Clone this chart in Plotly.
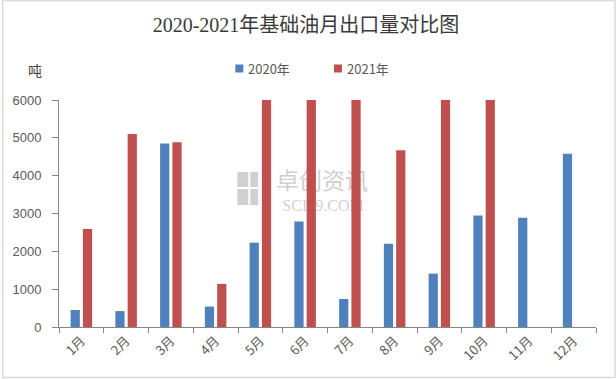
import plotly.graph_objects as go

months = ["1月", "2月", "3月", "4月", "5月", "6月", "7月", "8月", "9月", "10月", "11月", "12月"]
y2020 = [450, 420, 4850, 540, 2230, 2790, 740, 2200, 1410, 2950, 2890, 4580]
y2021 = [2590, 5100, 4880, 1140, 6000, 6000, 6000, 4670, 6000, 6000, None, None]
yticks = [0, 1000, 2000, 3000, 4000, 5000, 6000]
series_names = ["2020年", "2021年"]
colors = ["#4F81BD", "#C0504D"]

W, H = 616, 379
L, R, T, B = 57, 20, 100, 52

fig = go.Figure()
fig.add_trace(go.Bar(name=series_names[0], x=months, y=y2020, marker=dict(color=colors[0], line=dict(width=0)), showlegend=False))
fig.add_trace(go.Bar(name=series_names[1], x=months, y=y2021, marker=dict(color=colors[1], line=dict(width=0)), showlegend=False))

pw = W - L - R
ph = H - T - B
def px(xp):
    return (xp - L) / pw
def py(yp):
    return (H - B - yp) / ph

shapes = [
    dict(type="rect", xref="paper", yref="paper", x0=px(0.5), x1=px(W - 1), y0=py(H - 1.5), y1=py(0.5),
         line=dict(color="#d9d9d9", width=1.5), layer="below"),
]
# watermark logo squares
gray = "#d0d0d0"
for (x0, x1, y0, y1) in [(236, 247, 172, 187), (249, 257, 172, 187), (236, 247, 189, 205), (249, 257, 189, 205)]:
    shapes.append(dict(type="rect", xref="paper", yref="paper", x0=px(x0), x1=px(x1), y0=py(y1), y1=py(y0),
                       fillcolor=gray, line=dict(width=0), layer="below"))
shapes.append(dict(type="rect", xref="paper", yref="paper", x0=px(262), x1=px(380), y0=py(195), y1=py(170),
                   line=dict(width=0), fillcolor="rgba(0,0,0,0)", layer="below",
                   label=dict(text="卓创资讯", font=dict(size=23, color=gray, family="Noto Sans CJK SC"))))
shapes.append(dict(type="rect", xref="paper", yref="paper", x0=px(262), x1=px(382), y0=py(212), y1=py(194),
                   line=dict(width=0), fillcolor="rgba(0,0,0,0)", layer="below",
                   label=dict(text="SCI99.COM", font=dict(size=16, color=gray, family="Liberation Serif"))))

annotations = [dict(text="吨", xref="paper", yref="paper", x=px(33), y=py(70), xanchor="center", yanchor="middle",
                    showarrow=False, font=dict(size=14, color="#404040", family="Noto Sans CJK SC"))]

# custom legend
leg_x = [234, 333]
for i, name in enumerate(series_names):
    x0 = leg_x[i]
    shapes.append(dict(type="rect", xref="paper", yref="paper", x0=px(x0), x1=px(x0 + 8), y0=py(72.5), y1=py(64.5),
                       fillcolor=colors[i], line=dict(width=0)))
    annotations.append(dict(text=name, xref="paper", yref="paper", x=px(x0 + 11), y=py(68.5), xanchor="left",
                            yanchor="middle", showarrow=False,
                            font=dict(size=13, color="#595959", family="Noto Sans CJK SC")))

fig.update_layout(
    width=W, height=H,
    margin=dict(l=L, r=R, t=T, b=B),
    paper_bgcolor="white", plot_bgcolor="white",
    title=dict(text="2020-2021年基础油月出口量对比图", x=306 / W, xanchor="center", y=1 - 25 / H, yanchor="middle",
               font=dict(size=20, color="#3a3a3a", family="Liberation Serif, Noto Sans CJK SC")),
    barmode="group", bargap=0.45, bargroupgap=0.25,
    showlegend=False,
    shapes=shapes,
    annotations=annotations,
    font=dict(family="Noto Sans CJK SC", color="#595959"),
)
fig.update_yaxes(range=[0, 6000], tickvals=yticks, ticktext=[str(v) for v in yticks], showgrid=False,
                 showline=True, linecolor="#868686", linewidth=1, ticks="outside", ticklen=6, tickcolor="#868686",
                 ticklabelstandoff=8,
                 tickfont=dict(size=13, color="#595959", family="Liberation Sans Narrow, Liberation Sans"), zeroline=False)
fig.update_xaxes(showline=True, linecolor="#868686", linewidth=1, ticks="outside", ticklen=5, tickcolor="#868686",
                 tickson="boundaries", tickangle=-45, tickfont=dict(size=13, color="#595959", family="Noto Sans CJK SC"),
                 showgrid=False)

fig.write_html("out.html", config={"displayModeBar": False},
               post_script="document.body.style.margin='0';document.body.style.overflow='hidden';")
